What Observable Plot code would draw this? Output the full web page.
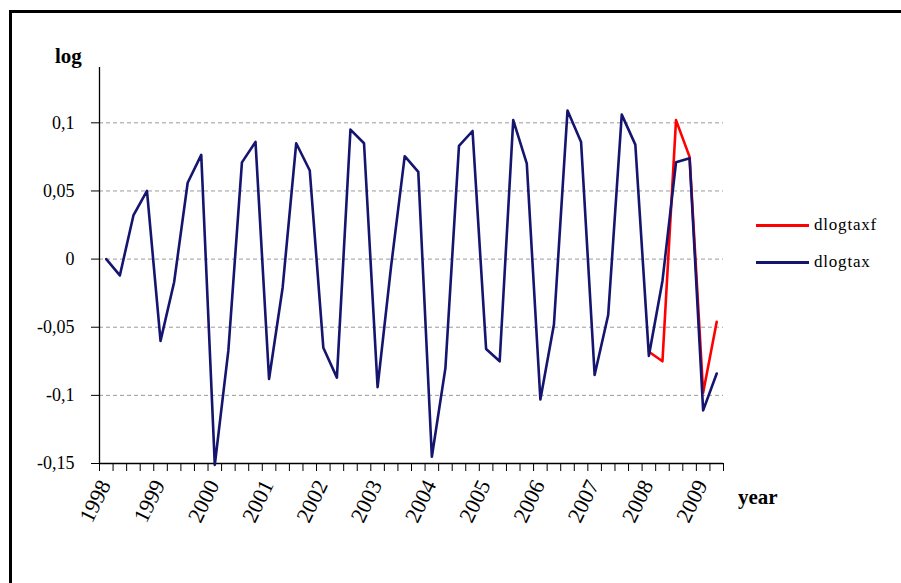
<!DOCTYPE html>
<html>
<head>
<meta charset="utf-8">
<script src="https://cdn.jsdelivr.net/npm/d3@7"></script>
<script src="https://cdn.jsdelivr.net/npm/@observablehq/plot@0.6"></script>
<style>
  html, body { margin: 0; padding: 0; background: #fff; }
  #wrap { position: relative; width: 901px; height: 583px; font-family: "Liberation Serif", "Times New Roman", serif; overflow: hidden; }
  #frame { position: absolute; left: 9px; top: 10px; width: 900px; height: 600px; border-top: 3px solid #000; border-left: 3px solid #000; pointer-events: none; }
  .lbl { position: absolute; font-weight: bold; font-size: 21px; color: #000; line-height: 21px; }
  .leg { position: absolute; font-size: 17px; line-height: 17px; letter-spacing: 0.8px; color: #000; white-space: nowrap; }
  .legline { position: absolute; height: 2.5px; width: 53px; }
</style>
</head>
<body>
<div id="wrap">
  <div id="chart"></div>
  <div id="frame"></div>
  <div class="lbl" style="left:55px; top:46px;">log</div>
  <div class="lbl" style="left:738px; top:487px;">year</div>
  <div id="legend"></div>
</div>
<script>
// Quarterly categories 1998Q1 .. 2009Q2
const years = ["1998","1999","2000","2001","2002","2003","2004","2005","2006","2007","2008","2009"];
const quarters = ["Q1","Q2","Q3","Q4"];
const nCategories = 46;

// dlogtax (blue), one value per quarter
const dlogtax = [
  0.000, -0.012, 0.032, 0.050,
  -0.060, -0.017, 0.056, 0.0765,
  -0.151, -0.067, 0.071, 0.086,
  -0.088, -0.021, 0.085, 0.065,
  -0.065, -0.087, 0.095, 0.085,
  -0.094, -0.005, 0.0755, 0.064,
  -0.145, -0.080, 0.083, 0.094,
  -0.066, -0.075, 0.102, 0.070,
  -0.103, -0.048, 0.109, 0.086,
  -0.085, -0.041, 0.106, 0.084,
  -0.071, -0.016, 0.071, 0.074,
  -0.111, -0.084
];
// dlogtaxf (red), forecast from 2008Q1
const dlogtaxfStart = 40;
const dlogtaxf = [-0.068, -0.075, 0.102, 0.075, -0.098, -0.046];

const yTicks = [-0.15, -0.1, -0.05, 0, 0.05, 0.1];
const gridTicks = [-0.1, -0.05, 0, 0.05, 0.1];

const seriesNames = ["dlogtaxf", "dlogtax"];
const seriesColors = ["#ff0000", "#15146e"];

const blueData = dlogtax.map((v, i) => ({i: i + 0.5, v}));
const redData = dlogtaxf.map((v, k) => ({i: dlogtaxfStart + k + 0.5, v}));
const yearLabels = years.map((y, k) => ({i: k * quarters.length + 0.5, label: y}));

const fmt = d => String(d).replace(".", ",");

const chart = Plot.plot({
  width: 901,
  height: 583,
  marginLeft: 99,
  marginRight: 178,
  marginTop: 67,
  marginBottom: 120,
  style: {fontFamily: "'Liberation Serif', 'Times New Roman', serif", fontSize: "18px", background: "white", color: "#000", overflow: "visible"},
  x: {domain: [0, nCategories], axis: null},
  y: {domain: [-0.15, 0.1406], axis: null},
  marks: [
    Plot.ruleY(gridTicks, {stroke: "#9a9a9a", strokeWidth: 1, strokeDasharray: "4,3"}),
    Plot.axisY({ticks: yTicks, tickSize: 8, tickPadding: 17, tickFormat: fmt, label: null, stroke: "#000", fill: "#000", strokeOpacity: 1, fontSize: 18}),
    Plot.axisX({ticks: d3.range(nCategories + 1), tickSize: 8, tickFormat: () => "", label: null, stroke: "#000", strokeOpacity: 1}),
    Plot.ruleX([0], {stroke: "#000", strokeWidth: 1.3}),
    Plot.ruleY([-0.15], {stroke: "#000", strokeWidth: 1.3}),
    Plot.line(redData, {x: "i", y: "v", stroke: seriesColors[0], strokeWidth: 2.6}),
    Plot.line(blueData, {x: "i", y: "v", stroke: seriesColors[1], strokeWidth: 2.6}),
    Plot.text(yearLabels, {x: "i", frameAnchor: "bottom", text: "label", rotate: -64, textAnchor: "end", lineAnchor: "bottom", dx: 5, dy: 21, fontSize: 22, fill: "#000"})
  ]
});
document.getElementById("chart").appendChild(chart);

// legend
const legend = document.getElementById("legend");
const legY = [225, 262];
seriesNames.forEach((name, k) => {
  const ln = document.createElement("div");
  ln.className = "legline";
  ln.style.left = "756px";
  ln.style.top = (legY[k] - 1) + "px";
  ln.style.background = seriesColors[k];
  legend.appendChild(ln);
  const t = document.createElement("div");
  t.className = "leg";
  t.style.left = "814px";
  t.style.top = (legY[k] - 9) + "px";
  t.textContent = name;
  legend.appendChild(t);
});
</script>
</body>
</html>
